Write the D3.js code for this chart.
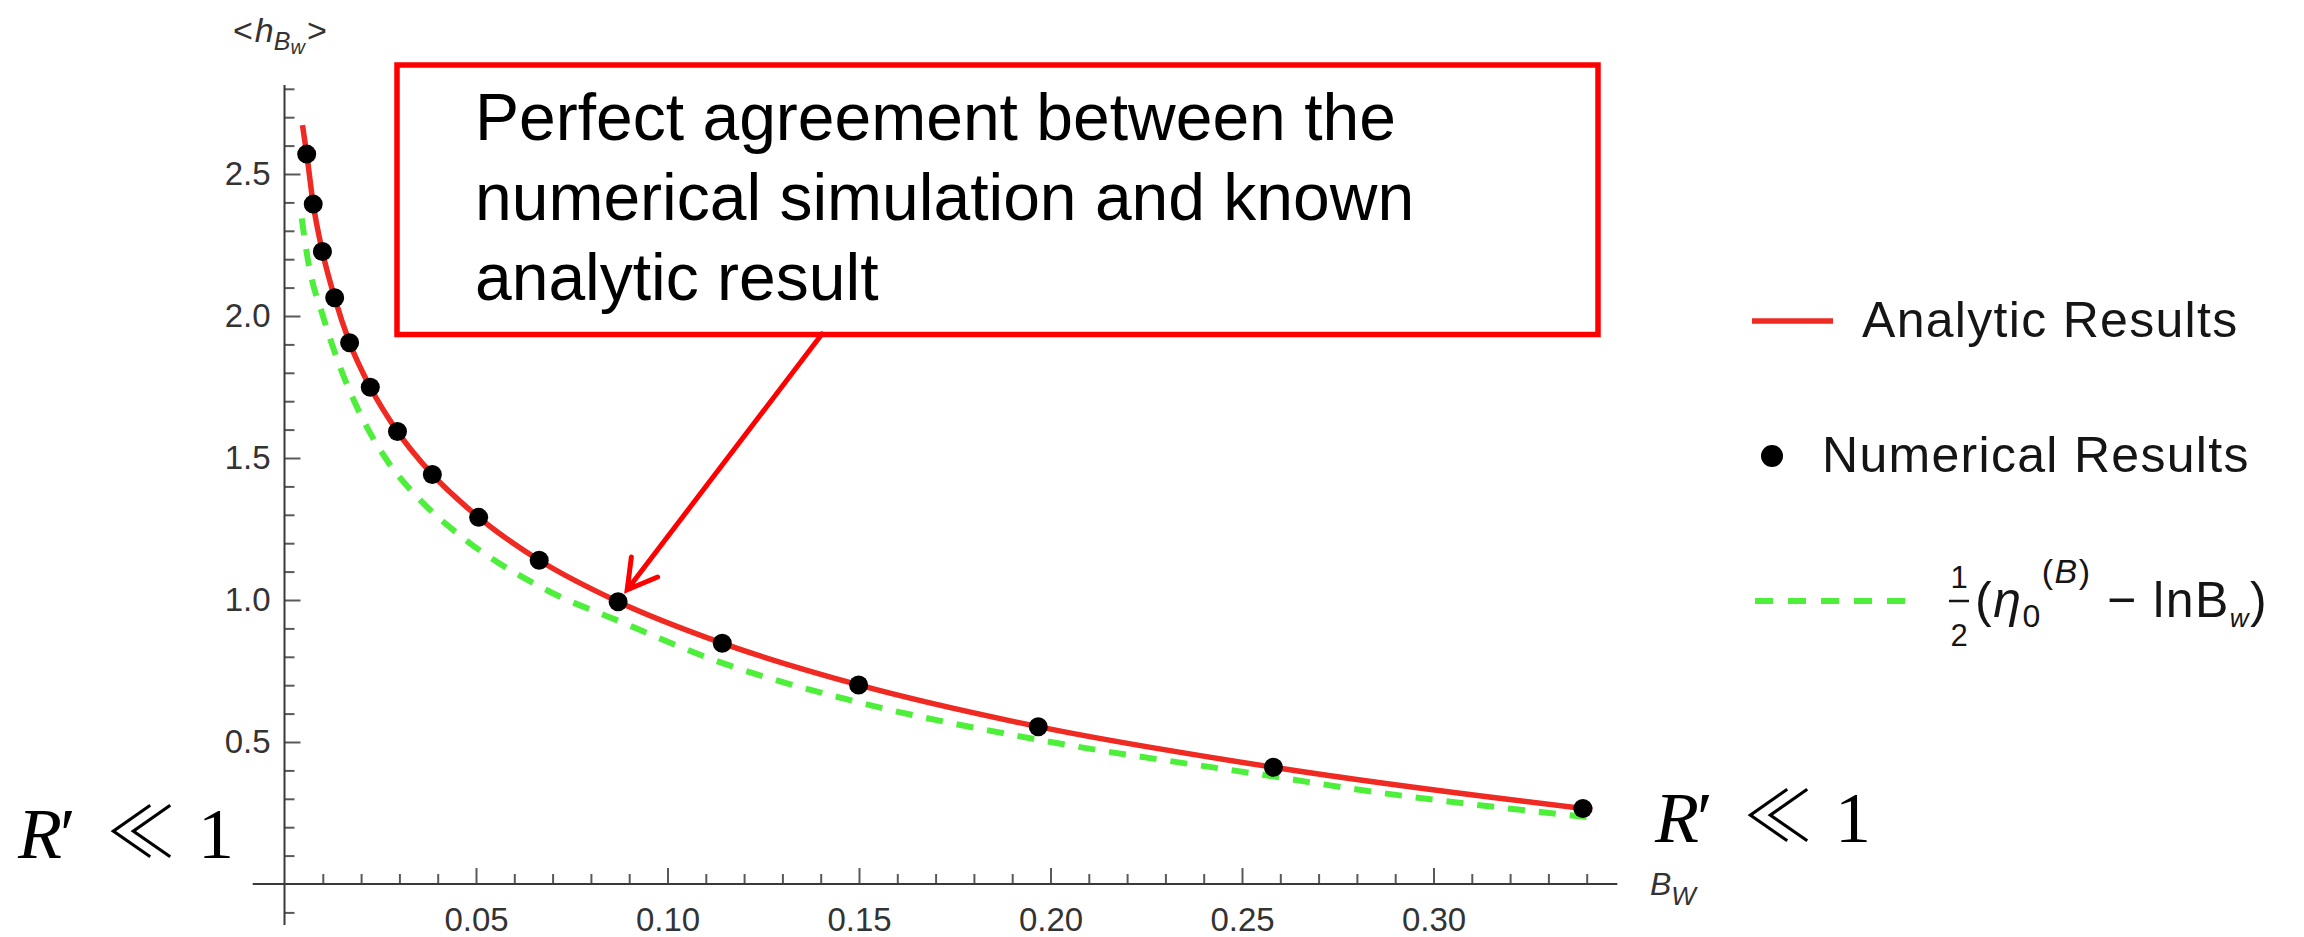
<!DOCTYPE html>
<html>
<head>
<meta charset="utf-8">
<script src="https://cdn.jsdelivr.net/npm/d3@7"></script>
<style>
  html, body { margin: 0; padding: 0; background: #fff; }
  svg { display: block; }
</style>
</head>
<body>
<svg id="chart" width="2304" height="937"></svg>
<script>
// ---- data -------------------------------------------------------------
// numerical simulation points  (B_w, <h_Bw>)
const numericalX = [0.0058, 0.0075, 0.0099, 0.0131, 0.0170, 0.0224, 0.0295, 0.0386,
                    0.0507, 0.0665, 0.0871, 0.1143, 0.1499, 0.1968, 0.2582, 0.3390];
const numericalY = [2.570, 2.394, 2.227, 2.064, 1.906, 1.749, 1.593, 1.442,
                    1.291, 1.140, 0.994, 0.848, 0.701, 0.554, 0.411, 0.266];

// analytic result (red curve)
const analyticX = [0.0047, 0.0058, 0.0075, 0.0099, 0.0131, 0.0170, 0.0224, 0.0295, 0.0386,
                   0.0507, 0.0665, 0.0871, 0.1143, 0.1499, 0.1968, 0.2582, 0.3390, 0.3415];
const analyticY = [2.672, 2.570, 2.394, 2.227, 2.064, 1.906, 1.749, 1.593, 1.442,
                   1.291, 1.140, 0.994, 0.848, 0.701, 0.554, 0.411, 0.266, 0.262];

// small-B_w asymptote  ½(η0^(B) − ln B_w)  (green dashed curve)
const asymptoticX = [0.0045, 0.0062, 0.0101, 0.0145, 0.0197, 0.0267, 0.0354, 0.0441,
                     0.0693, 0.0866, 0.1133, 0.1492, 0.1972, 0.2585, 0.2780, 0.3400];
const asymptoticY = [2.344, 2.191, 1.997, 1.821, 1.657, 1.493, 1.352, 1.246,
                     1.029, 0.930, 0.783, 0.642, 0.507, 0.378, 0.337, 0.236];

const xTickValues = [0.05, 0.10, 0.15, 0.20, 0.25, 0.30];
const xTickLabels = ["0.05", "0.10", "0.15", "0.20", "0.25", "0.30"];
const yTickValues = [0.5, 1.0, 1.5, 2.0, 2.5];
const yTickLabels = ["0.5", "1.0", "1.5", "2.0", "2.5"];

const legendLabels = ["Analytic Results", "Numerical Results"];
const noteLines = ["Perfect agreement between the",
                   "numerical simulation and known",
                   "analytic result"];
const noteTarget = 10;   // index of the numerical point the arrow points at

// ---- setup ------------------------------------------------------------
const sans = "'Liberation Sans', Arial, Helvetica, sans-serif";
const serif = "'Liberation Serif', 'DejaVu Serif', 'Times New Roman', serif";
const RED = "#ee2a22", GREEN = "#4def3a", BOXRED = "#ff0000";
const AXIS = "#3a3a3a", TICK = "#595959", LABEL = "#333333";

const svg = d3.select("#chart");
svg.append("rect").attr("width", 2304).attr("height", 937).attr("fill", "#fff");

const x = d3.scaleLinear().domain([0, 0.35]).range([284.5, 284.5 + 0.35 * 3830]);
const y = d3.scaleLinear().domain([0, 2.5]).range([884, 174]);

// ---- axes -------------------------------------------------------------
function styleAxis(g) {
  g.select(".domain").remove();
  g.selectAll(".tick line").attr("stroke", TICK).attr("stroke-width", 2);
  g.selectAll(".tick text").attr("fill", LABEL);
  g.attr("font-family", sans).attr("font-size", 33);
}

// x axis
const xMinor = d3.range(1, 35).map(i => i / 100).filter(v => Math.round(v * 100) % 5 !== 0);
svg.append("g").attr("transform", `translate(0,${y(0)})`)
  .call(d3.axisBottom(x).tickValues(xMinor).tickSize(-10).tickFormat(""))
  .call(styleAxis);
svg.append("g").attr("transform", `translate(0,${y(0)})`)
  .call(d3.axisBottom(x).tickValues(xTickValues).tickSize(-16).tickPadding(24)
        .tickFormat((d, i) => xTickLabels[i]))
  .call(styleAxis);
svg.append("line")
  .attr("x1", x(-0.0083)).attr("x2", x(0.348))
  .attr("y1", y(0)).attr("y2", y(0))
  .attr("stroke", AXIS).attr("stroke-width", 2);

// y axis
const yMinor = d3.range(-1, 29).map(i => i / 10).filter(v => Math.round(v * 10) % 5 !== 0);
svg.append("g").attr("transform", `translate(${x(0)},0)`)
  .call(d3.axisLeft(y).tickValues(yMinor).tickSize(-10).tickFormat(""))
  .call(styleAxis);
svg.append("g").attr("transform", `translate(${x(0)},0)`)
  .call(d3.axisLeft(y).tickValues(yTickValues).tickSize(-16).tickPadding(14)
        .tickFormat((d, i) => yTickLabels[i]))
  .call(styleAxis);
svg.append("line")
  .attr("x1", x(0)).attr("x2", x(0))
  .attr("y1", y(2.813)).attr("y2", y(-0.144))
  .attr("stroke", AXIS).attr("stroke-width", 2);

// axis titles
const yTitle = svg.append("text").attr("font-family", sans).attr("fill", LABEL)
  .attr("x", 233).attr("y", 42).attr("font-size", 34);
yTitle.append("tspan").text("<");
yTitle.append("tspan").attr("font-style", "italic").attr("dx", 2).text("h");
yTitle.append("tspan").attr("font-style", "italic").attr("font-size", 25).attr("dy", 8).text("B");
yTitle.append("tspan").attr("font-style", "italic").attr("font-size", 20).attr("dy", 4).text("w");
yTitle.append("tspan").attr("dy", -12).attr("dx", 2).text(">");

const xTitle = svg.append("text").attr("font-family", sans).attr("fill", LABEL)
  .attr("x", 1650).attr("y", 895).attr("font-size", 32);
xTitle.append("tspan").attr("font-style", "italic").text("B");
xTitle.append("tspan").attr("font-style", "italic").attr("font-size", 26).attr("dy", 10).text("W");

// ---- curves -----------------------------------------------------------
const line = d3.line().x(d => x(d[0])).y(d => y(d[1])).curve(d3.curveMonotoneX);

svg.append("path").datum(d3.zip(asymptoticX, asymptoticY))
  .attr("d", line).attr("fill", "none")
  .attr("stroke", GREEN).attr("stroke-width", 6).attr("stroke-dasharray", "17 14");

svg.append("path").datum(d3.zip(analyticX, analyticY))
  .attr("d", line).attr("fill", "none")
  .attr("stroke", RED).attr("stroke-width", 5.5).attr("stroke-linecap", "butt");

svg.append("g").selectAll("circle").data(d3.zip(numericalX, numericalY)).join("circle")
  .attr("cx", d => x(d[0])).attr("cy", d => y(d[1])).attr("r", 9.5).attr("fill", "#000");

// ---- legend -----------------------------------------------------------
const lg = svg.append("g").attr("font-family", sans).attr("fill", "#151515");
lg.append("line").attr("x1", 1752).attr("x2", 1833).attr("y1", 321).attr("y2", 321)
  .attr("stroke", RED).attr("stroke-width", 5.5);
lg.append("text").attr("x", 1862).attr("y", 337).attr("font-size", 50)
  .attr("letter-spacing", 1.3).text(legendLabels[0]);
lg.append("circle").attr("cx", 1772).attr("cy", 456).attr("r", 11).attr("fill", "#000");
lg.append("text").attr("x", 1822).attr("y", 472).attr("font-size", 50)
  .attr("letter-spacing", 1.3).text(legendLabels[1]);
lg.append("line").attr("x1", 1755).attr("x2", 1905).attr("y1", 601).attr("y2", 601)
  .attr("stroke", GREEN).attr("stroke-width", 6).attr("stroke-dasharray", "18 15");

// ½(η0^(B) − lnB_w)
lg.append("text").attr("x", 1959).attr("y", 588).attr("font-size", 31)
  .attr("text-anchor", "middle").text("1");
lg.append("line").attr("x1", 1949).attr("x2", 1969).attr("y1", 601).attr("y2", 601)
  .attr("stroke", "#151515").attr("stroke-width", 2.5);
lg.append("text").attr("x", 1959).attr("y", 646).attr("font-size", 31)
  .attr("text-anchor", "middle").text("2");
const expr = lg.append("text").attr("x", 1975).attr("y", 617).attr("font-size", 50)
  .attr("letter-spacing", 1.5);
expr.append("tspan").text("(");
expr.append("tspan").attr("font-style", "italic").text("η");
expr.append("tspan").attr("font-size", 32).attr("dy", 10).text("0");
expr.append("tspan").attr("font-size", 34).attr("dy", -44).text("(");
expr.append("tspan").attr("font-size", 34).attr("font-style", "italic").text("B");
expr.append("tspan").attr("font-size", 34).text(")");
expr.append("tspan").attr("dy", 34).text(" − lnB");
expr.append("tspan").attr("font-size", 26).attr("font-style", "italic").attr("dy", 10).text("w");
expr.append("tspan").attr("dy", -10).text(")");

// ---- annotation box + arrow ---------------------------------------------
svg.append("rect").attr("x", 397).attr("y", 65).attr("width", 1201).attr("height", 269.5)
  .attr("fill", "none").attr("stroke", BOXRED).attr("stroke-width", 5.5);
svg.append("text").attr("font-family", sans).attr("font-size", 66).attr("fill", "#000")
  .selectAll("tspan").data(noteLines).join("tspan")
  .attr("x", 475).attr("y", (d, i) => 140 + i * 80).text(d => d);

const start = [822, 334];
const dotPx = [x(numericalX[noteTarget]), y(numericalY[noteTarget])];
const vx = start[0] - dotPx[0], vy = start[1] - dotPx[1];
const len = Math.hypot(vx, vy), ux = vx / len, uy = vy / len;
const tip = [dotPx[0] + 15 * ux, dotPx[1] + 15 * uy];
const rot = (a) => [ux * Math.cos(a) - uy * Math.sin(a), ux * Math.sin(a) + uy * Math.cos(a)];
const armA = rot(Math.PI / 6), armB = rot(-Math.PI / 6), armLen = 33;
svg.append("path")
  .attr("d", `M${start[0]},${start[1]}L${tip[0]},${tip[1]}` +
             `M${tip[0] + armLen * armA[0]},${tip[1] + armLen * armA[1]}L${tip[0]},${tip[1]}` +
             `L${tip[0] + armLen * armB[0]},${tip[1] + armLen * armB[1]}`)
  .attr("fill", "none").attr("stroke", BOXRED).attr("stroke-width", 5)
  .attr("stroke-linecap", "round").attr("stroke-linejoin", "miter");

// ---- regime labels  R′ ≪ 1 ----------------------------------------------
function regime(x0, base) {
  const g = svg.append("g").attr("font-family", serif).attr("fill", "#000").attr("font-size", 72);
  g.append("text").attr("x", x0).attr("y", base).attr("font-style", "italic").text("R");
  g.append("text").attr("x", x0 + 42).attr("y", base).text("′");
  g.append("text").attr("x", x0 + 88).attr("y", base)
    .attr("font-family", "'Noto Sans CJK JP', 'DejaVu Sans', sans-serif")
    .attr("font-weight", 300).attr("font-size", 70).text("≪");
  g.append("text").attr("x", x0 + 180).attr("y", base).text("1");
}
regime(18, 858);
regime(1655, 842);
</script>
</body>
</html>
